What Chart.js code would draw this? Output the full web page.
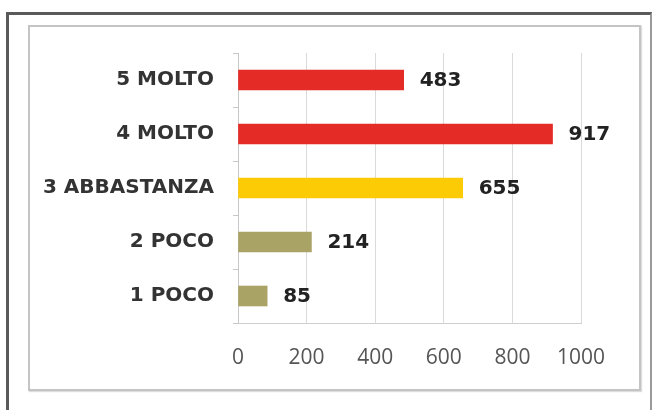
<!DOCTYPE html>
<html>
<head>
<meta charset="utf-8">
<script src="https://cdn.jsdelivr.net/npm/chart.js@4/dist/chart.umd.min.js"></script>
<style>
  html, body { margin: 0; padding: 0; background: #fff; }
  body { width: 652px; height: 410px; position: relative; overflow: hidden; }
  #outer { position: absolute; left: 6px; top: 12px; width: 641px; height: 420px;
           border-top: 3px solid #5a5a5a; border-left: 3px solid #5a5a5a; border-right: 2px solid #9a9a9a; }
  #inner { position: absolute; left: 28px; top: 25px; width: 609px; height: 362px;
           border: 2px solid #c4c4c4; box-shadow: 1px 1px 1px #ddd; }
  #wrap { position: absolute; left: 0; top: 0; width: 652px; height: 410px; }
</style>
</head>
<body>
<div id="outer"></div>
<div id="inner"></div>
<div id="wrap"><canvas id="c" width="652" height="410"></canvas></div>
<script>
const categories = ['5 MOLTO', '4 MOLTO', '3 ABBASTANZA', '2 POCO', '1 POCO'];
const values = [483, 917, 655, 214, 85];
const barColors = ['#e52b26', '#e52b26', '#fdcb05', '#aaa366', '#aaa366'];
const xTicks = [0, 200, 400, 600, 800, 1000];

const valueLabels = {
  id: 'valueLabels',
  afterDatasetsDraw(chart) {
    const ctx = chart.ctx;
    const meta = chart.getDatasetMeta(0);
    ctx.save();
    ctx.font = 'bold 20px "DejaVu Sans"';
    ctx.fillStyle = '#222';
    ctx.textAlign = 'left';
    ctx.textBaseline = 'middle';
    meta.data.forEach((bar, i) => {
      ctx.fillText(String(values[i]), bar.x + 16, bar.y + 1);
    });
    ctx.restore();
  }
};

new Chart(document.getElementById('c'), {
  type: 'bar',
  data: {
    labels: categories,
    datasets: [{
      data: values,
      backgroundColor: barColors,
      borderWidth: 0,
      barThickness: 20
    }]
  },
  options: {
    indexAxis: 'y',
    responsive: false,
    animation: false,
    devicePixelRatio: 1,
    layout: { padding: { top: 53, right: 71, bottom: 0, left: 0 } },
    plugins: { legend: { display: false }, tooltip: { enabled: false } },
    scales: {
      x: {
        min: 0, max: 1000,
        afterBuildTicks(scale) { scale.ticks = xTicks.map(v => ({ value: v })); },
        afterFit(scale) { scale.height = 87; },
        grid: { color: '#dadada', lineWidth: 1, drawTicks: false },
        border: { display: true, color: '#cfcfcf', width: 1 },
        ticks: { color: '#555', font: { family: '"Open Sans"', size: 21 }, padding: 22,
                 callback: (v) => String(v) }
      },
      y: {
        afterFit(scale) { scale.width = 238; },
        grid: { display: true, drawOnChartArea: false, drawTicks: true, tickLength: 5, color: '#c8c8c8' },
        border: { display: true, color: '#c8c8c8', width: 1 },
        ticks: { color: '#333', font: { family: '"DejaVu Sans"', size: 20, weight: 'bold' }, padding: 19 }
      }
    }
  },
  plugins: [valueLabels]
});
</script>
</body>
</html>
